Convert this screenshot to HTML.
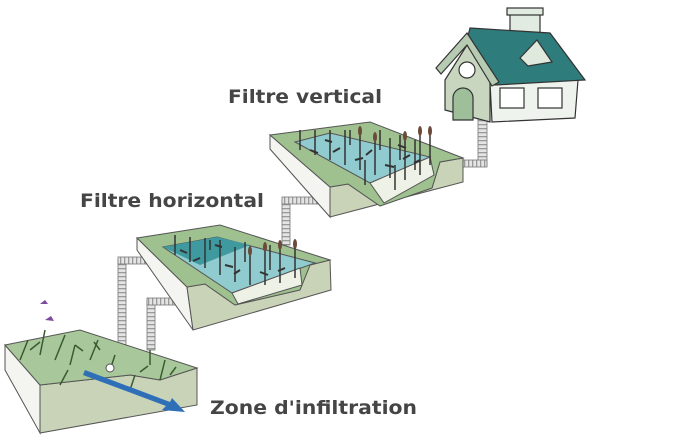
<!DOCTYPE html><html><head><style>body{margin:0;background:#fff}svg{display:block}text{font-family:"DejaVu Sans",sans-serif;font-weight:bold;fill:#454545;font-size:19px}</style></head><body>
<svg width="674" height="438" viewBox="0 0 674 438">
<defs><pattern id="st" width="4" height="4" patternUnits="userSpaceOnUse"><rect width="4" height="4" fill="#e4e4e4"/><rect width="4" height="1.3" fill="#9a9a9a"/></pattern>
<pattern id="sv" width="4" height="4" patternUnits="userSpaceOnUse"><rect width="4" height="4" fill="#e4e4e4"/><rect width="1.3" height="4" fill="#9a9a9a"/></pattern></defs>
<g stroke="#777" stroke-width="0.8">
<rect x="478" y="118" width="9" height="48" fill="url(#st)"/>
<rect x="462" y="160" width="25" height="7" fill="url(#sv)"/>
<rect x="282" y="200" width="8" height="45" fill="url(#st)"/>
<rect x="282" y="197" width="38" height="7" fill="url(#sv)"/>
<rect x="118" y="260" width="8" height="85" fill="url(#st)"/>
<rect x="118" y="257" width="32" height="7" fill="url(#sv)"/>
<rect x="147" y="300" width="8" height="50" fill="url(#st)"/>
<rect x="147" y="298" width="38" height="7" fill="url(#sv)"/>
</g>
<g stroke="#555" stroke-width="1">
<polygon points="270,135 270,149 330,217 330,187" fill="#f4f4f0"/>
<polygon points="330,187 348,184 380,206 432,188 440,162 463,158 463,182 330,217" fill="#c9d3b8"/>
<polygon points="270,135 370,122 463,158 440,162 432,188 380,206 348,184 330,187" fill="#9fc08f"/>
<polygon points="295,142 330,133 430,157 370,183" fill="#8fcbcf"/>
<polygon points="370,183 430,157 434,175 384,203" fill="#eef2e6"/>
<polygon points="137,238 137,250 193,330 187,287" fill="#f4f4f0"/>
<polygon points="187,287 205,284 235,305 300,290 310,265 330,260 331,290 193,330" fill="#c9d3b8"/>
<polygon points="137,238 220,225 330,260 310,265 300,290 235,305 205,284 187,287" fill="#9fc08f"/>
<polygon points="163,247 217,237 315,263 232,293" fill="#8fcbcf"/>
<polygon points="163,247 217,237 250,245 200,265" fill="#3f9aa0" stroke="none"/>
<polygon points="232,293 300,268 302,285 238,304" fill="#eef2e6"/>
<polygon points="5,345 5,370 40,433 40,385" fill="#f4f4f0"/>
<polygon points="40,385 130,375 160,380 197,368 197,405 40,433" fill="#c9d3b8"/>
<polygon points="5,345 80,330 197,368 160,380 130,375 40,385" fill="#a8c79a"/>
</g>
<g stroke="#333" stroke-width="1.5">
<path d="M300 150v-20M315 155v-25M330 160v-30M345 165v-35M360 170v-40M375 175v-40M390 178v-40M405 180v-45M420 175v-45M430 165v-35M350 145v-15M380 150v-20M400 160v-25M415 170v-30M365 185v-25M395 190v-25"/>
<path d="M310 150l8 3M340 148l-7 4M355 160l8-2M372 150l-6 5M385 165l9 2M410 155l-7 4M325 140l7 2M398 145l8 3M420 160l-6 3" stroke-width="2"/>
<path d="M175 255v-20M190 262v-25M205 268v-30M220 275v-35M235 282v-35M250 285v-35M265 285v-40M280 283v-40M295 278v-35M210 250v-10M245 262v-20M270 270v-25"/>
<path d="M180 250l7 3M200 258l-7 3M225 265l8 2M240 270l-6 4M260 272l8 3M285 268l-7 3M215 245l7 2" stroke-width="2"/>
<path d="M20 360l8-20M40 355l5-25M55 360l10-25M70 365l5-20M90 360l8-20M110 370l5-15M150 365v-15M160 380l5-20M130 390l5-15M60 385l8-15M30 350l10-8M75 345l8 6M100 350l-6-8M140 372l8-6M170 375l6-8" stroke="#3a5a30"/>
</g>
<g fill="#6b4a3a">
<ellipse cx="375" cy="137" rx="2" ry="5"/><ellipse cx="405" cy="136" rx="2" ry="5"/><ellipse cx="420" cy="131" rx="2" ry="5"/><ellipse cx="430" cy="131" rx="2" ry="5"/><ellipse cx="360" cy="131" rx="2" ry="5"/>
<ellipse cx="265" cy="247" rx="2" ry="5"/><ellipse cx="280" cy="245" rx="2" ry="5"/><ellipse cx="295" cy="244" rx="2" ry="5"/><ellipse cx="250" cy="251" rx="2" ry="5"/>
</g>
<circle cx="110" cy="368" r="4" fill="#fff" stroke="#555"/>
<polygon points="85,370 170,402 172,398 185,412 162,410 166,406 83,375" fill="#2f6fb8"/>
<path d="M40 304l5-4 3 4zM45 320l6-4 3 5z" fill="#7a4aa0"/>
<g stroke="#333" stroke-width="1.2">
<rect x="510" y="12" width="30" height="22" fill="#e2ebe2"/>
<rect x="507" y="8" width="36" height="7" fill="#e2ebe2"/>
<polygon points="445,80 467,45 490,80 490,122 445,110" fill="#c8d6c0"/>
<polygon points="490,82 578,80 575,118 492,122" fill="#eef3ee"/>
<polygon points="470,28 550,33 585,80 495,85 467,40" fill="#2e7c7c"/>
<polygon points="467,33 436,68 441,74 467,45 492,86 499,82" fill="#b7cbb2"/>
<polygon points="520,58 537,40 552,62 528,66" fill="#dfe9dc"/>
<circle cx="467" cy="70" r="8" fill="#fff"/>
<path d="M453 120v-22a10 10 0 0 1 20 0v22z" fill="#9ebf9a"/>
<rect x="500" y="88" width="24" height="20" fill="#fff"/>
<rect x="538" y="88" width="24" height="20" fill="#fff"/>
</g>
<text x="228" y="103" textLength="154" lengthAdjust="spacingAndGlyphs">Filtre vertical</text>
<text x="80" y="207" textLength="184" lengthAdjust="spacingAndGlyphs">Filtre horizontal</text>
<text x="210" y="414" textLength="207" lengthAdjust="spacingAndGlyphs">Zone d'infiltration</text>
</svg></body></html>
